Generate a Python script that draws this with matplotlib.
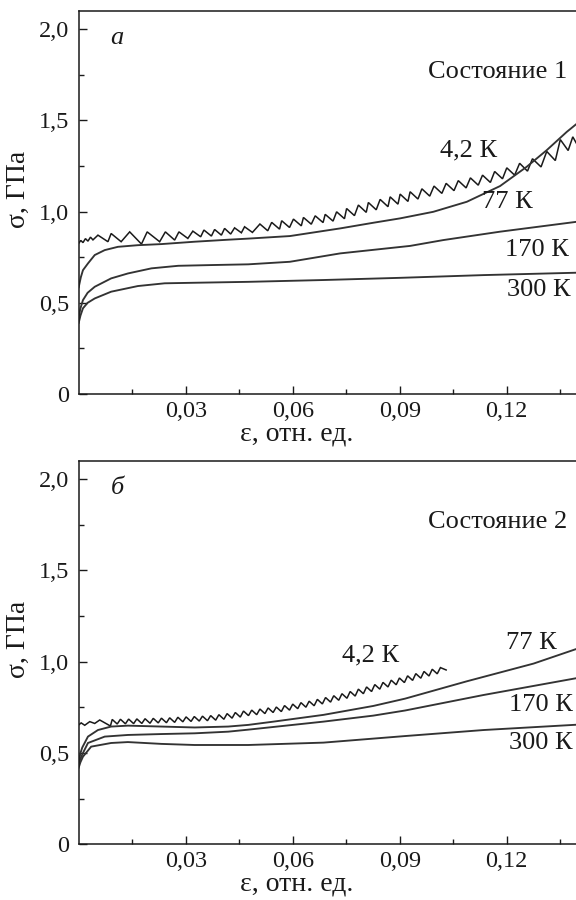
import matplotlib
matplotlib.use("Agg")
import matplotlib.pyplot as plt
from matplotlib.ticker import FixedLocator

plt.rcParams['font.family'] = ['Liberation Serif', 'DejaVu Serif']

# ---------------- data ----------------
xtick_vals = [0.03, 0.06, 0.09, 0.12]
xtick_labels = ['0,03', '0,06', '0,09', '0,12']
xminor_vals = [0.015, 0.045, 0.075, 0.105, 0.135]
ytick_vals = [0.0, 0.5, 1.0, 1.5, 2.0]
ytick_labels = ['0', '0,5', '1,0', '1,5', '2,0']
yminor_vals = [0.25, 0.75, 1.25, 1.75]

# Panel a (Состояние 1)
top_42_x = [0.0000, 0.0006, 0.0012, 0.0019, 0.0026, 0.0033, 0.0040, 0.0054, 0.0082, 0.0091,
            0.0119, 0.0143, 0.0176, 0.0192, 0.0227, 0.0243, 0.0269, 0.0281, 0.0306, 0.0320,
            0.0342, 0.0351, 0.0372, 0.0381, 0.0400, 0.0409, 0.0426, 0.0437, 0.0456, 0.0465,
            0.0487, 0.0508, 0.0530, 0.0541, 0.0563, 0.0569, 0.0591, 0.0602, 0.0624, 0.0630,
            0.0652, 0.0663, 0.0685, 0.0691, 0.0713, 0.0723, 0.0745, 0.0751, 0.0773, 0.0784,
            0.0806, 0.0812, 0.0834, 0.0845, 0.0867, 0.0873, 0.0895, 0.0901, 0.0923, 0.0929,
            0.0951, 0.0962, 0.0984, 0.0996, 0.1018, 0.1030, 0.1052, 0.1064, 0.1086, 0.1098,
            0.1120, 0.1132, 0.1154, 0.1166, 0.1188, 0.1200, 0.1222, 0.1236, 0.1258, 0.1272,
            0.1296, 0.1312, 0.1336, 0.1350, 0.1372, 0.1385, 0.1395]
top_42_y = [0.826, 0.842, 0.830, 0.852, 0.838, 0.860, 0.845, 0.871, 0.835, 0.880,
            0.835, 0.889, 0.822, 0.889, 0.835, 0.889, 0.844, 0.889, 0.853, 0.893,
            0.862, 0.899, 0.866, 0.902, 0.871, 0.908, 0.877, 0.911, 0.884, 0.917,
            0.886, 0.932, 0.895, 0.941, 0.904, 0.950, 0.913, 0.959, 0.922, 0.968,
            0.931, 0.977, 0.940, 0.985, 0.948, 0.999, 0.961, 1.017, 0.978, 1.036,
            0.996, 1.050, 1.010, 1.067, 1.027, 1.081, 1.041, 1.096, 1.056, 1.109,
            1.069, 1.125, 1.085, 1.140, 1.100, 1.155, 1.115, 1.170, 1.130, 1.185,
            1.145, 1.200, 1.160, 1.220, 1.180, 1.240, 1.200, 1.265, 1.222, 1.290,
            1.245, 1.330, 1.280, 1.395, 1.335, 1.410, 1.375]

top_77_x = [0.0, 0.0006, 0.0012, 0.0026, 0.0045, 0.0073, 0.0110, 0.0166, 0.0232, 0.0325,
            0.0419, 0.0475, 0.0592, 0.0733, 0.0826, 0.0901, 0.0994, 0.1088, 0.1181, 0.1256,
            0.1312, 0.1368, 0.1395]
top_77_y = [0.585, 0.640, 0.679, 0.716, 0.762, 0.789, 0.807, 0.816, 0.822, 0.835,
            0.846, 0.852, 0.866, 0.908, 0.939, 0.963, 0.999, 1.054, 1.140, 1.246,
            1.337, 1.437, 1.480]

top_170_x = [0.0, 0.0005, 0.0012, 0.0025, 0.0045, 0.0091, 0.0138, 0.0204, 0.0279, 0.0372,
             0.0475, 0.0592, 0.0733, 0.0929, 0.1022, 0.1181, 0.1395]
top_170_y = [0.420, 0.470, 0.515, 0.555, 0.588, 0.634, 0.661, 0.689, 0.703, 0.707,
             0.711, 0.725, 0.771, 0.812, 0.844, 0.890, 0.944]

top_300_x = [0.0, 0.0005, 0.0012, 0.0025, 0.0045, 0.0091, 0.0166, 0.0241, 0.0325, 0.0475,
             0.0686, 0.0901, 0.1135, 0.1395]
top_300_y = [0.390, 0.430, 0.470, 0.500, 0.524, 0.561, 0.592, 0.607, 0.610, 0.615,
             0.625, 0.637, 0.652, 0.665]

# Panel б (Состояние 2)
bot_42_x = [0.0000, 0.0007, 0.0017, 0.0031, 0.0045, 0.0059, 0.0089,
            0.0094, 0.0108, 0.0117, 0.0131, 0.0140, 0.0154, 0.0163, 0.0177, 0.0186, 0.0200,
            0.0209, 0.0223, 0.0232, 0.0246, 0.0255, 0.0269, 0.0278, 0.0292, 0.0301, 0.0315,
            0.0324, 0.0338, 0.0347, 0.0361, 0.0370, 0.0384, 0.0393, 0.0407, 0.0416, 0.0430,
            0.0439, 0.0453, 0.0462, 0.0476, 0.0485, 0.0499, 0.0508, 0.0522, 0.0531, 0.0545,
            0.0554, 0.0568, 0.0577, 0.0591, 0.0600, 0.0614, 0.0623, 0.0637, 0.0646, 0.0660,
            0.0669, 0.0683, 0.0692, 0.0706, 0.0715, 0.0729, 0.0738, 0.0752, 0.0761, 0.0775,
            0.0784, 0.0798, 0.0807, 0.0821, 0.0830, 0.0844, 0.0853, 0.0867, 0.0876, 0.0890,
            0.0899, 0.0913, 0.0922, 0.0936, 0.0945, 0.0959, 0.0968, 0.0982, 0.0991, 0.1005,
            0.1014, 0.1030]
bot_42_y = [0.654, 0.665, 0.652, 0.672, 0.662, 0.681, 0.648,
            0.684, 0.659, 0.685, 0.660, 0.686, 0.661, 0.687, 0.662, 0.688, 0.663,
            0.690, 0.665, 0.691, 0.666, 0.693, 0.668, 0.696, 0.671, 0.698, 0.673,
            0.700, 0.675, 0.702, 0.677, 0.705, 0.680, 0.710, 0.685, 0.716, 0.691,
            0.722, 0.697, 0.730, 0.705, 0.735, 0.710, 0.741, 0.716, 0.747, 0.722,
            0.752, 0.727, 0.760, 0.735, 0.768, 0.743, 0.776, 0.751, 0.784, 0.759,
            0.794, 0.769, 0.804, 0.779, 0.814, 0.789, 0.825, 0.800, 0.837, 0.812,
            0.850, 0.825, 0.862, 0.837, 0.875, 0.850, 0.887, 0.862, 0.899, 0.874,
            0.911, 0.886, 0.923, 0.898, 0.935, 0.910, 0.947, 0.922, 0.959, 0.934,
            0.968, 0.955]

bot_77_x = [0.0, 0.0005, 0.0010, 0.0026, 0.0054, 0.0091, 0.0138, 0.0232, 0.0325, 0.0419,
            0.0475, 0.0546, 0.0686, 0.0826, 0.0915, 0.1088, 0.1275, 0.1395]
bot_77_y = [0.450, 0.500, 0.530, 0.590, 0.626, 0.645, 0.650, 0.645, 0.640, 0.645,
            0.654, 0.672, 0.709, 0.758, 0.798, 0.893, 0.990, 1.070]

bot_170_x = [0.0, 0.0005, 0.0012, 0.0026, 0.0073, 0.0138, 0.0232, 0.0325, 0.0419, 0.0475,
             0.0686, 0.0826, 0.0915, 0.1135, 0.1395]
bot_170_y = [0.440, 0.470, 0.500, 0.555, 0.590, 0.599, 0.604, 0.608, 0.617, 0.628,
             0.672, 0.705, 0.733, 0.818, 0.910]

bot_300_x = [0.0, 0.0005, 0.0012, 0.0035, 0.0091, 0.0138, 0.0232, 0.0325, 0.0475, 0.0686,
             0.0915, 0.1135, 0.1395]
bot_300_y = [0.420, 0.450, 0.480, 0.535, 0.555, 0.560, 0.550, 0.544, 0.544, 0.557,
             0.593, 0.626, 0.655]

temps = ['4,2 К', '77 К', '170 К', '300 К']
top_label_pos = [(0.1092, 1.337), (0.1202, 1.054), (0.1284, 0.789), (0.1291, 0.570)]
bot_label_pos = [(0.0817, 1.037), (0.1270, 1.101), (0.1296, 0.763), (0.1294, 0.553)]

panels = [
    dict(letter='а', state='Состояние 1',
         curves=[(top_42_x, top_42_y), (top_77_x, top_77_y), (top_170_x, top_170_y), (top_300_x, top_300_y)],
         labels=top_label_pos),
    dict(letter='б', state='Состояние 2',
         curves=[(bot_42_x, bot_42_y), (bot_77_x, bot_77_y), (bot_170_x, bot_170_y), (bot_300_x, bot_300_y)],
         labels=bot_label_pos),
]

# ---------------- figure ----------------
fig = plt.figure(figsize=(5.76, 9.0), dpi=100)
rects = [[0.1366, 0.5622, 0.8634, 0.4256], [0.1366, 0.0619, 0.8634, 0.4259]]
FS_TICK = 17.5
FS_LAB = 19
FS_AX = 20
ink = '#1a1a1a'

for rect, p in zip(rects, panels):
    ax = fig.add_axes(rect)
    ax.set_xlim(0, 0.1394)
    ax.set_ylim(0, 2.1)
    for i, (xs, ys) in enumerate(p['curves']):
        ax.plot(xs, ys, color=ink if i == 0 else '#333333', lw=1.1 if i == 0 else 1.35,
                solid_joinstyle='miter')
    for t, (lx, ly) in zip(temps, p['labels']):
        ax.text(lx, ly, t, fontsize=FS_LAB, ha='center', va='center', color=ink)
    ax.text(0.077, 0.93, p['letter'], transform=ax.transAxes, fontsize=FS_LAB,
            style='italic', ha='center', va='center', color=ink)
    ax.text(0.982, 0.842, p['state'], transform=ax.transAxes, fontsize=FS_LAB,
            ha='right', va='center', color=ink)

    ax.xaxis.set_major_locator(FixedLocator(xtick_vals))
    ax.set_xticklabels(xtick_labels)
    ax.xaxis.set_minor_locator(FixedLocator(xminor_vals))
    ax.yaxis.set_major_locator(FixedLocator(ytick_vals))
    ax.set_yticklabels(ytick_labels)
    ax.yaxis.set_minor_locator(FixedLocator(yminor_vals))
    ax.tick_params(which='both', direction='in', colors=ink, labelsize=FS_TICK, width=1.0)
    ax.tick_params(which='major', length=6)
    ax.tick_params(which='minor', length=3.5)
    ax.tick_params(axis='x', pad=5)
    ax.tick_params(axis='y', pad=7)
    ax.spines['right'].set_visible(False)
    for s in ['left', 'bottom', 'top']:
        ax.spines[s].set_linewidth(1.1)
        ax.spines[s].set_color(ink)

    ax.text(0.439, -0.104, 'ε, отн. ед.', transform=ax.transAxes, fontsize=FS_AX,
            ha='center', va='center', color=ink)
    ax.text(-0.122, 0.535, 'σ, ГПа', transform=ax.transAxes, fontsize=FS_AX,
            ha='center', va='center', rotation=90, color=ink)

fig.savefig('out.png', dpi=100)
